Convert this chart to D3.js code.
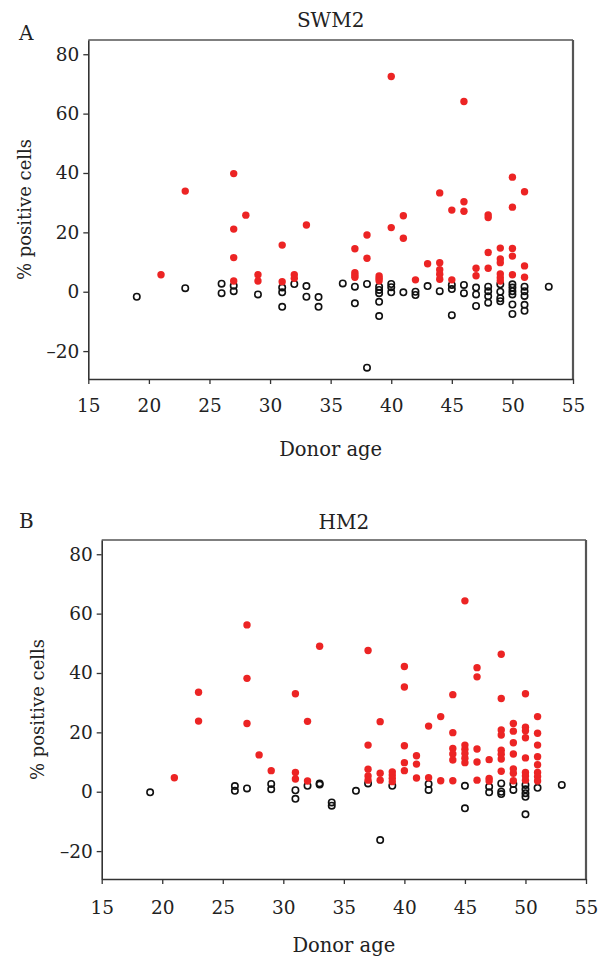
<!DOCTYPE html>
<html>
<head>
<meta charset="utf-8">
<script src="https://cdn.jsdelivr.net/npm/d3@7/dist/d3.min.js"></script>
<style>
  body { margin: 0; background: #fff; }
  svg text { font-family: "DejaVu Serif", "Liberation Serif", serif; fill: #222; }
</style>
</head>
<body>
<div id="chart"></div>
<script>
// [age, % positive]
let swm2Positive = [
  [21, 5.7], [23, 33.9], [27, 39.8], [27, 21.1], [27, 11.5], [27, 3.6], [28, 25.8],
  [29, 5.7], [29, 3.6], [31, 15.7], [31, 3.4], [32, 5.7], [32, 4.5], [33, 22.5],
  [37, 14.5], [37, 6.4], [37, 5.6], [37, 4.9], [38, 19.1], [38, 11.3],
  [39, 5.3], [39, 4.5], [39, 3.7], [40, 72.5], [40, 21.6], [41, 25.6], [41, 18.0],
  [42, 4.0], [43, 9.4], [44, 33.3], [44, 9.8], [44, 7.4], [44, 5.9], [44, 4.2],
  [45, 27.5], [45, 4.0], [46, 64.1], [46, 30.3], [46, 27.1], [47, 7.9], [47, 5.4],
  [48, 25.9], [48, 25.0], [48, 13.2], [48, 7.9],
  [49, 14.7], [49, 11.0], [49, 9.8], [49, 6.0], [49, 4.7], [49, 3.6],
  [50, 38.6], [50, 28.5], [50, 14.6], [50, 12.0], [50, 5.7],
  [51, 33.7], [51, 8.7], [51, 4.9]
];
let swm2Negative = [
  [19, -1.7], [23, 1.2], [26, 2.7], [26, -0.5], [27, 2.0], [27, 0.2], [29, -0.9],
  [31, 1.4], [31, -0.2], [31, -5.1], [32, 2.6], [33, 1.9], [33, -1.7], [34, -1.8], [34, -5.1],
  [36, 2.8], [37, 1.7], [37, -3.9], [38, 2.6], [38, -25.6],
  [39, 1.7], [39, 0.6], [39, -0.5], [39, -3.4], [39, -8.2], [40, 2.6], [40, 1.5], [40, -0.2],
  [41, -0.2], [42, 0.0], [42, -1.1], [43, 1.9], [44, 0.2], [45, 2.3], [45, 0.9], [45, -7.9],
  [46, 2.3], [46, -0.5], [47, 1.4], [47, -0.9], [47, -4.8],
  [48, 1.7], [48, 0.2], [48, -1.5], [48, -3.7], [49, 2.5], [49, 0.0], [49, -2.2], [49, -3.2],
  [50, 2.5], [50, 1.4], [50, 0.2], [50, -0.9], [50, -4.3], [50, -7.5],
  [51, 1.7], [51, 0.2], [51, -1.4], [51, -4.4], [51, -6.4], [53, 1.7]
];

let hm2Positive = [
  [21, 4.7], [23, 33.5], [23, 23.8], [27, 56.2], [27, 38.2], [27, 23.0], [28, 12.4],
  [29, 7.1], [31, 33.0], [31, 6.5], [31, 4.3], [32, 23.7], [32, 3.6], [33, 49.0],
  [37, 47.6], [37, 15.7], [37, 7.6], [37, 5.3], [37, 3.9], [38, 23.6], [38, 6.2], [38, 3.9],
  [39, 6.7], [39, 5.6], [39, 4.5], [39, 3.4],
  [40, 42.2], [40, 35.3], [40, 15.5], [40, 9.8], [40, 7.1], [41, 12.1], [41, 9.3], [41, 4.6],
  [42, 22.1], [42, 4.7], [43, 25.3], [43, 3.7],
  [44, 32.7], [44, 19.9], [44, 14.6], [44, 12.7], [44, 10.7], [44, 3.7],
  [45, 64.3], [45, 15.7], [45, 14.3], [45, 12.9], [45, 11.3], [45, 9.8],
  [46, 41.8], [46, 38.7], [46, 14.4], [46, 10.0], [46, 3.9], [47, 10.8], [47, 4.5], [47, 3.6],
  [48, 46.3], [48, 31.4], [48, 20.8], [48, 19.1], [48, 14.0], [48, 12.6], [48, 11.0], [48, 6.9],
  [49, 23.0], [49, 20.4], [49, 16.5], [49, 12.7], [49, 7.7], [49, 6.2], [49, 3.7],
  [50, 33.0], [50, 21.7], [50, 20.5], [50, 18.2], [50, 11.4], [50, 6.5], [50, 5.3], [50, 3.9],
  [51, 25.3], [51, 19.7], [51, 15.7], [51, 11.8], [51, 9.1], [51, 6.5], [51, 5.1], [51, 3.6]
];
let hm2Negative = [
  [19, -0.2], [26, 1.9], [26, 0.3], [27, 1.1], [29, 2.6], [29, 0.8], [31, 0.5], [31, -2.4],
  [32, 2.0], [33, 2.8], [33, 2.4], [34, -3.6], [34, -4.7], [36, 0.3], [37, 2.8], [38, -16.3],
  [39, 2.0], [42, 2.6], [42, 0.6], [45, 2.0], [45, -5.6], [47, 1.7], [47, -0.2],
  [48, 2.8], [48, 0.0], [48, -0.8], [49, 2.6], [49, 0.6],
  [50, 2.3], [50, 0.8], [50, -0.5], [50, -1.7], [50, -7.6], [51, 1.3], [53, 2.3]
];

let xTicks = [15, 20, 25, 30, 35, 40, 45, 50, 55];
let yTicks = [-20, 0, 20, 40, 60, 80];

let svg = d3.select("#chart").append("svg")
  .attr("width", 605)
  .attr("height", 959);

function panel(opts) {
  let x = d3.scaleLinear().domain([15, 55]).range([opts.left, opts.right]);
  let y = d3.scaleLinear().domain([-29.4, 84.8]).range([opts.bottom, opts.top]);
  let g = svg.append("g");

  // frame: top and right edges
  g.append("line")
    .attr("x1", opts.left).attr("x2", opts.right)
    .attr("y1", opts.top).attr("y2", opts.top)
    .attr("stroke", "#555").attr("stroke-width", 1.3);
  g.append("line")
    .attr("x1", opts.right).attr("x2", opts.right)
    .attr("y1", opts.top).attr("y2", opts.bottom)
    .attr("stroke", "#555").attr("stroke-width", 2.2);

  let xAxis = g.append("g")
    .attr("transform", "translate(0," + opts.bottom + ")")
    .call(d3.axisBottom(x).tickValues(xTicks).tickSize(5).tickSizeOuter(0).tickPadding(opts.xPad));
  let yAxis = g.append("g")
    .attr("transform", "translate(" + opts.left + ",0)")
    .call(d3.axisLeft(y).tickValues(yTicks).tickSize(5).tickSizeOuter(0).tickPadding(4)
      .tickFormat(d => d < 0 ? "\u2013" + Math.abs(d) : d));

  [xAxis, yAxis].forEach(a => {
    a.select(".domain").attr("stroke", "#333").attr("stroke-width", 1.6);
    a.selectAll(".tick line").attr("stroke", "#333").attr("stroke-width", 1.3);
    a.selectAll(".tick text").style("font-size", "18.5px").attr("fill", "#222");
  });

  // negative (open) first, positive (red) over them
  g.selectAll(".neg")
    .data(opts.neg)
    .enter().append("circle")
    .attr("class", "neg")
    .attr("cx", d => x(d[0]))
    .attr("cy", d => y(d[1]))
    .attr("r", 3.2)
    .attr("fill", "none")
    .attr("stroke", "#111")
    .attr("stroke-width", 1.6);

  g.selectAll(".pos")
    .data(opts.pos)
    .enter().append("circle")
    .attr("class", "pos")
    .attr("cx", d => x(d[0]))
    .attr("cy", d => y(d[1]))
    .attr("r", 3.7)
    .attr("fill", "#ec2424");

  g.append("text")
    .attr("x", (opts.left + opts.right) / 2)
    .attr("y", opts.titleY)
    .attr("text-anchor", "middle")
    .style("font-size", "20px")
    .text(opts.title);

  g.append("text")
    .attr("x", 19)
    .attr("y", opts.letterY)
    .style("font-size", "20px")
    .text(opts.letter);

  g.append("text")
    .attr("transform", "translate(" + opts.ylabelX + "," + (opts.top + opts.bottom) / 2 + ") rotate(-90)")
    .attr("text-anchor", "middle")
    .style("font-size", "18px")
    .text("% positive cells");

  g.append("text")
    .attr("x", (opts.left + opts.right) / 2)
    .attr("y", opts.bottom + opts.xlabelOff)
    .attr("text-anchor", "middle")
    .style("font-size", "19.5px")
    .text("Donor age");
}

panel({ left: 88.3, right: 573, top: 40, bottom: 379, title: "SWM2", letter: "A",
  titleY: 27, letterY: 40, xPad: 15, xlabelOff: 77,
  ylabelX: 31, pos: swm2Positive, neg: swm2Negative });
panel({ left: 101.7, right: 586, top: 540, bottom: 879, title: "HM2", letter: "B",
  titleY: 529, letterY: 528, xPad: 17, xlabelOff: 73,
  ylabelX: 44, pos: hm2Positive, neg: hm2Negative });
</script>
</body>
</html>
